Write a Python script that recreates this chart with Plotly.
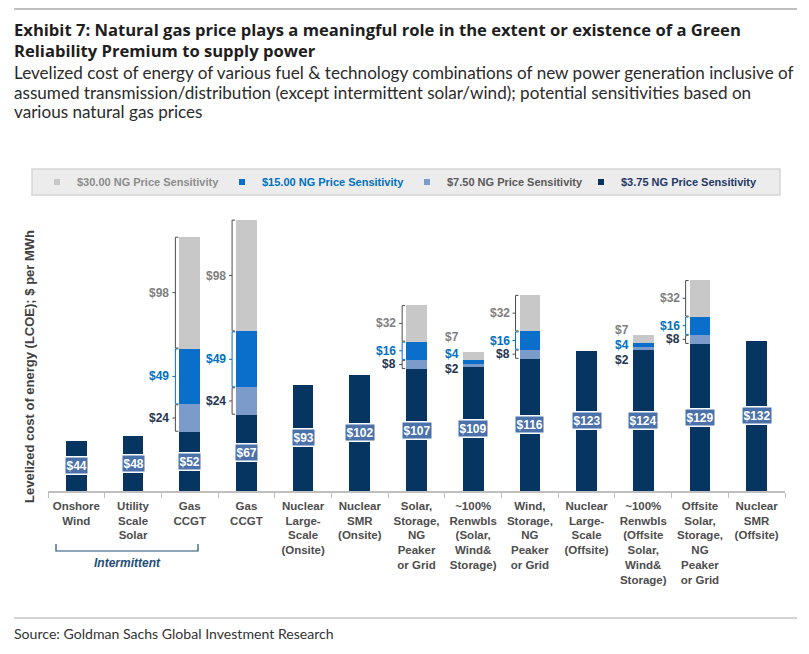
import plotly.graph_objects as go

# ---------------- data ----------------
categories = [
    "Onshore<br>Wind",
    "Utility<br>Scale<br>Solar",
    "Gas<br>CCGT",
    "Gas<br>CCGT",
    "Nuclear<br>Large-<br>Scale<br>(Onsite)",
    "Nuclear<br>SMR<br>(Onsite)",
    "Solar,<br>Storage,<br>NG<br>Peaker<br>or Grid",
    "~100%<br>Renwbls<br>(Solar,<br>Wind&<br>Storage)",
    "Wind,<br>Storage,<br>NG<br>Peaker<br>or Grid",
    "Nuclear<br>Large-<br>Scale<br>(Offsite)",
    "~100%<br>Renwbls<br>(Offsite<br>Solar,<br>Wind&<br>Storage)",
    "Offsite<br>Solar,<br>Storage,<br>NG<br>Peaker<br>or Grid",
    "Nuclear<br>SMR<br>(Offsite)",
]
ng_375 = [44, 48, 52, 67, 93, 102, 107, 109, 116, 123, 124, 129, 132]
ng_750_inc = [0, 0, 24, 24, 0, 0, 8, 2, 8, 0, 2, 8, 0]
ng_1500_inc = [0, 0, 49, 49, 0, 0, 16, 4, 16, 0, 4, 16, 0]
ng_3000_inc = [0, 0, 98, 98, 0, 0, 32, 7, 32, 0, 7, 32, 0]
series_names = [
    "$30.00 NG Price Sensitivity",
    "$15.00 NG Price Sensitivity",
    "$7.50 NG Price Sensitivity",
    "$3.75 NG Price Sensitivity",
]
title_lines = [
    "Exhibit 7: Natural gas price plays a meaningful role in the extent or existence of a Green",
    "Reliability Premium to supply power",
]
subtitle_lines = [
    "Levelized cost of energy of various fuel & technology combinations of new power generation inclusive of",
    "assumed transmission/distribution (except intermittent solar/wind); potential sensitivities based on",
    "various natural gas prices",
]
y_title = "Levelized cost of energy (LCOE); $ per MWh"
group_label = "Intermittent"
source_text = "Source: Goldman Sachs Global Investment Research"

# ---------------- style / layout ----------------
W, H = 809, 654
PL, PR, PT, PB = 48, 785, 200, 491
PX_PER_UNIT = 1.14
YMAX = (PB - PT) / PX_PER_UNIT
BW = 0.365
CAT_PX = (PR - PL) / len(categories)

NAVY = "#073562"
LBLUE = "#7b9bca"
BLUE = "#0a6fca"
GRAY = "#c8c8c8"
BOX = "#4a71aa"
LBL_GRAY, LBL_BLUE, LBL_DARK = "#7f7f7f", "#0070c0", "#26344f"
BR_GRAY, BR_BLUE, BR_DARK = "#4d4d4d", "#0070c0", "#4d4d4d"
FONT = "Arial, Liberation Sans, sans-serif"
TFONT = "Lato, Arial, sans-serif"
HFONT = "Open Sans, Lato, Arial, sans-serif"


def px2x(px):
    return (px - PL) / (PR - PL)


def px2y(py):
    return (PB - py) / (PB - PT)


xs = list(range(len(categories)))

fig = go.Figure()
stack = [
    (ng_375, NAVY),
    (ng_750_inc, LBLUE),
    (ng_1500_inc, BLUE),
    (ng_3000_inc, GRAY),
]
for vals, col in stack:
    fig.add_trace(go.Bar(x=xs, y=vals, width=BW, marker=dict(color=col, line=dict(width=0)),
                         showlegend=False, hoverinfo="y"))

# legend proxies (order as in reference)
legend_styles = [(GRAY, "#8c8c8c", 140), (BLUE, "#0070c0", 140), (LBLUE, "#595959", 129), (NAVY, "#1f3864", 140)]
for name, (mc, tc, lw) in zip(series_names, legend_styles):
    fig.add_trace(go.Scatter(x=[None], y=[None], mode="markers", legendwidth=lw,
                             marker=dict(symbol="square", size=6, color=mc),
                             name=f"<span style='color:{tc}'><b>{name}</b></span>"))

annotations = []
shapes = []

# value boxes
for i, v in enumerate(ng_375):
    annotations.append(dict(x=i, y=v / 2, xref="x", yref="y", text=f"<b>${v}</b>", showarrow=False,
                            font=dict(family=FONT, size=12, color="white"),
                            bgcolor=BOX, bordercolor="white", borderwidth=1.5, borderpad=1))

# sensitivity labels and brackets
small_shift = {7: [-3, 8, 19], 10: [-11, 0, 9]}
incs = [(ng_750_inc, LBL_DARK, BR_DARK), (ng_1500_inc, LBL_BLUE, BR_BLUE), (ng_3000_inc, LBL_GRAY, BR_GRAY)]
for i in xs:
    bottom = ng_375[i]
    if ng_750_inc[i] == 0:
        continue
    big = ng_750_inc[i] >= 5
    left = i - BW / 2
    for k, (arr, lc, bc) in enumerate(incs):
        seg = arr[i]
        top = bottom + seg
        mid = (bottom + top) / 2
        if big:
            xv = left - 4 / CAT_PX
            d = 3 / CAT_PX
            path = (f"M {xv + d},{top - 0.4} L {xv},{top - 0.4} L {xv},{bottom + 0.4} L {xv + d},{bottom + 0.4} "
                    f"M {xv},{mid} L {xv - d},{mid}")
            shapes.append(dict(type="path", path=path, xref="x", yref="y",
                               line=dict(color=bc, width=1)))
            annotations.append(dict(x=left, y=mid, xref="x", yref="y", text=f"<b>${seg}</b>",
                                    showarrow=False, xanchor="right", yanchor="middle", xshift=-8,
                                    font=dict(family=FONT, size=12, color=lc)))
        else:
            annotations.append(dict(x=left, y=mid, xref="x", yref="y", text=f"<b>${seg}</b>",
                                    showarrow=False, xanchor="right", yanchor="middle", xshift=-2,
                                    yshift=small_shift[i][k],
                                    font=dict(family=FONT, size=12, color=lc)))
        bottom = top

# y-axis title
annotations.append(dict(x=px2x(29), y=px2y(367), xref="paper", yref="paper", text=f"<b>{y_title}</b>",
                        xanchor="center", yanchor="middle",
                        textangle=-90, showarrow=False, font=dict(family=FONT, size=13, color="#404040")))

# intermittent bracket
gx0 = (56 - PL) / CAT_PX - 0.5
gx1 = (198 - PL) / CAT_PX - 0.5
shapes.append(dict(type="path", xref="x", yref="paper",
                   path=f"M {gx0},{px2y(544)} L {gx0},{px2y(551)} L {gx1},{px2y(551)} L {gx1},{px2y(544)}",
                   line=dict(color="#1f4e79", width=1.2)))
annotations.append(dict(x=(gx0 + gx1) / 2, y=px2y(563), xref="x", yref="paper",
                        xanchor="center", yanchor="middle",
                        text=f"<b><i>{group_label}</i></b>", showarrow=False,
                        font=dict(family=FONT, size=12, color="#1f4e79")))

# titles & source (one annotation per line to match line spacing)
for line, yc in zip(title_lines, [29.5, 50.5]):
    annotations.append(dict(x=px2x(13), y=px2y(yc), xref="paper", yref="paper", xanchor="left",
                            yanchor="middle", align="left", text=f"<b>{line}</b>", showarrow=False,
                            borderpad=0, font=dict(family=HFONT, size=16.6, color="#1e1e1e")))
for line, yc in zip(subtitle_lines, [72, 92, 112]):
    annotations.append(dict(x=px2x(13), y=px2y(yc), xref="paper", yref="paper", xanchor="left",
                            yanchor="middle", align="left", text=line, showarrow=False,
                            borderpad=0, font=dict(family=TFONT, size=17.1, color="#2b2b2b")))
annotations.append(dict(x=px2x(13), y=px2y(633), xref="paper", yref="paper", xanchor="left", yanchor="middle",
                        align="left", text=source_text, showarrow=False, borderpad=0,
                        font=dict(family=TFONT, size=14.1, color="#333333")))

# rules and legend box
shapes.append(dict(type="line", xref="paper", yref="paper", x0=px2x(14), x1=px2x(797), y0=px2y(9), y1=px2y(9),
                   line=dict(color="#bfbfbf", width=2)))
shapes.append(dict(type="line", xref="paper", yref="paper", x0=px2x(14), x1=px2x(797), y0=px2y(618),
                   y1=px2y(618), line=dict(color="#a6a6a6", width=1)))
shapes.append(dict(type="rect", xref="paper", yref="paper", x0=px2x(32), x1=px2x(780), y0=px2y(169),
                   y1=px2y(195), fillcolor="#ececec", line=dict(color="#d6d6d6", width=1.5), layer="below"))

fig.update_layout(
    width=W, height=H,
    margin=dict(l=PL, r=W - PR, t=PT, b=H - PB, pad=0),
    paper_bgcolor="white", plot_bgcolor="white",
    barmode="stack", bargap=0,
    showlegend=True,
    legend=dict(orientation="h", x=px2x(37), y=px2y(182), xanchor="left", yanchor="middle",
                bgcolor="rgba(0,0,0,0)", borderwidth=0, entrywidth=141, entrywidthmode="pixels",
                font=dict(family=FONT, size=11), traceorder="normal"),
    xaxis=dict(range=[-0.5, len(categories) - 0.5], tickmode="array", tickvals=xs, ticktext=categories,
               ticks="", showline=True, linecolor="#bfbfbf", linewidth=1.5, showgrid=False, zeroline=False,
               tickangle=0, ticklabelstandoff=3,
               tickfont=dict(family=FONT, size=11.5, color="#4d4d4d", weight="bold"),
               minor=dict(tickmode="array", tickvals=[k - 0.5 for k in range(len(categories) + 1)],
                          ticks="outside", ticklen=5, tickcolor="#bfbfbf", tickwidth=1, showgrid=False),
               fixedrange=True),
    yaxis=dict(range=[0, YMAX], visible=False, showgrid=False, zeroline=False, fixedrange=True),
    annotations=annotations,
    shapes=shapes,
)

fig.write_html("out.html", config={"displayModeBar": False},
               post_script="document.body.style.margin='0px';")
